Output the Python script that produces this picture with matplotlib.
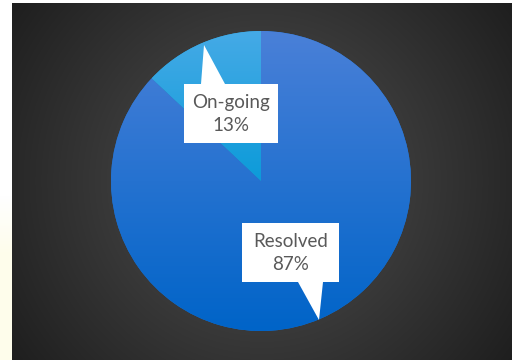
import numpy as np
import matplotlib
matplotlib.use("Agg")
import matplotlib.pyplot as plt
from matplotlib.patches import Polygon
from matplotlib.colors import to_rgb

# ---- data ----
categories = ["Resolved", "On-going"]
values = [87, 13]
pct_labels = ["87%", "13%"]

W, H = 514, 360
fig = plt.figure(figsize=(W / 100, H / 100), dpi=100)
fig.patch.set_facecolor("white")

ax = fig.add_axes([0, 0, 1, 1])
ax.set_xlim(0, W)
ax.set_ylim(0, H)
ax.axis("off")

# left strip: white to pale yellow
strip = np.ones((H, 1, 3))
for i in range(H):
    t = np.clip((i - 195) / 60.0, 0, 1)
    strip[i, 0] = (1 - t) * np.array([1, 1, 1]) + t * np.array(to_rgb("#fefdeb"))
ax.imshow(strip, extent=[0, 12, 0, H], origin="upper", aspect="auto", zorder=0)

# chart area radial gradient background
x0, x1 = 12, 512
ytop, ybot = 3, 360
gx = np.arange(x0, x1) + 0.5
gy = np.arange(ytop, ybot) + 0.5
GX, GY = np.meshgrid(gx, gy)
cx, cy = 262, 181
r = np.sqrt((GX - cx) ** 2 + (GY - cy) ** 2) / 310.0
r = np.clip(r, 0, 1)
c_in = np.array(to_rgb("#525252"))
c_out = np.array(to_rgb("#1e1e1e"))
bg = c_in[None, None, :] * (1 - r[..., None]) + c_out[None, None, :] * r[..., None]
ax.imshow(bg, extent=[x0, x1, H - ybot, H - ytop], origin="upper", aspect="auto", zorder=1)

# ---- pie ----
pcx, pcy_img, R = 261, 181, 150
pcy = H - pcy_img
wedges, _ = ax.pie(values, startangle=90, counterclock=False,
                   center=(pcx, pcy), radius=R,
                   colors=["#1a72d4", "#25a3e0"],
                   wedgeprops=dict(linewidth=0, zorder=2))
ax.set_xlim(0, W)
ax.set_ylim(0, H)
ax.set_aspect("auto")

grads = [("#4a80d8", "#0064c8"), ("#45aae6", "#0c9bd9")]
for w, (ct, cb) in zip(wedges, grads):
    w.set_zorder(2)
    bb = w.get_path().get_extents(w.get_transform() - ax.transData)
    n = 200
    t = np.linspace(0, 1, n)[:, None]
    g = np.array(to_rgb(ct))[None, :] * (1 - t) + np.array(to_rgb(cb))[None, :] * t
    g = g[:, None, :]
    im = ax.imshow(g, extent=[bb.x0, bb.x1, bb.y0, bb.y1], origin="upper",
                   aspect="auto", zorder=3)
    im.set_clip_path(w)

# ---- callouts ----
def callout(box, base, tip, zorder=5):
    l, rgt, t, b = box  # image coords
    if tip[1] < t:  # pointer on top edge
        pts = [(l, t), (base[0], t), tip, (base[1], t), (rgt, t), (rgt, b), (l, b)]
    else:
        pts = [(l, t), (rgt, t), (rgt, b), (base[1], b), tip, (base[0], b), (l, b)]
    pts = [(x, H - y) for x, y in pts]
    ax.add_patch(Polygon(pts, closed=True, facecolor="white", edgecolor="none", zorder=zorder))

callout((184, 278, 84, 143), (201, 225), (204, 45))
callout((242, 339, 223, 282), (298, 323), (319, 320))

font = ["Lato", "DejaVu Sans"]
ax.text(231, H - 114, f"{categories[1]}\n{pct_labels[1]}", ha="center", va="center",
        fontsize=13.5, color="#595959", family=font, linespacing=1.45, zorder=6)
ax.text(290.5, H - 253, f"{categories[0]}\n{pct_labels[0]}", ha="center", va="center",
        fontsize=13.5, color="#595959", family=font, linespacing=1.45, zorder=6)

fig.savefig("out.png", dpi=100, facecolor="white")
